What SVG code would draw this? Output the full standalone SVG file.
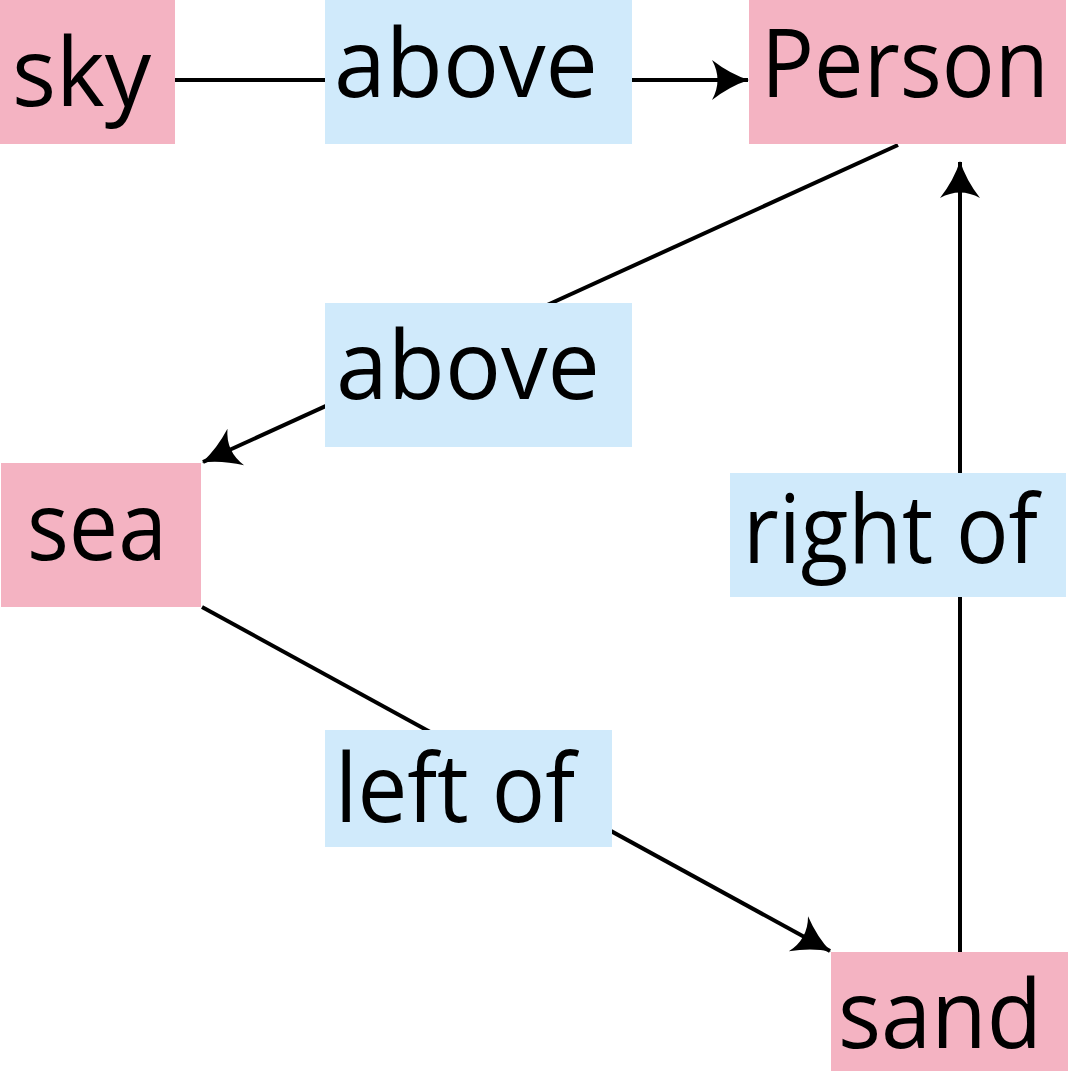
<svg xmlns="http://www.w3.org/2000/svg" width="1070" height="1071" viewBox="0 0 1070 1071">
<style>
.node{fill:#F4B3C2}
.lbl{fill:#D0EAFB}
text{font-family:"Open Sans","Noto Sans","DejaVu Sans",sans-serif;font-size:96px;fill:#000}
.edge{stroke:#000;stroke-width:4;fill:none}
</style>
<defs>
<marker id="arr" markerUnits="userSpaceOnUse" markerWidth="45" markerHeight="50" refX="0" refY="0" viewBox="-40 -25 45 50" orient="auto">
<path d="M1 0 Q-18 -6 -36 -20 Q-25 0 -36 20 Q-18 6 1 0 Z" fill="#000"/>
</marker>
</defs>
<g id="connectors">
<line class="edge" x1="175" y1="80" x2="748" y2="80" marker-end="url(#arr)"/>
<line class="edge" x1="898" y1="145" x2="203" y2="462" marker-end="url(#arr)"/>
<line class="edge" x1="202" y1="607" x2="830" y2="951" marker-end="url(#arr)"/>
<line class="edge" x1="960" y1="952" x2="960" y2="162" marker-end="url(#arr)"/>
</g>
<g id="label-above-1">
<rect class="lbl" x="325" y="0" width="307" height="144"/>
<text x="334" y="97" textLength="264" lengthAdjust="spacingAndGlyphs">above</text>
</g>
<g id="label-above-2">
<rect class="lbl" x="325" y="303" width="307" height="144"/>
<text x="336" y="399" textLength="264" lengthAdjust="spacingAndGlyphs">above</text>
</g>
<g id="label-left-of">
<rect class="lbl" x="325" y="730" width="287" height="117"/>
<text x="335" y="822" textLength="240" lengthAdjust="spacingAndGlyphs">left of</text>
</g>
<g id="label-right-of">
<rect class="lbl" x="730" y="473" width="336" height="124"/>
<text x="743" y="563" textLength="295" lengthAdjust="spacingAndGlyphs">right of</text>
</g>
<g id="node-sky">
<rect class="node" x="0" y="0" width="175" height="144"/>
<text x="12" y="106" textLength="139" lengthAdjust="spacingAndGlyphs">sky</text>
</g>
<g id="node-person">
<rect class="node" x="749" y="0" width="317" height="144"/>
<text x="761" y="97" textLength="288" lengthAdjust="spacingAndGlyphs">Person</text>
</g>
<g id="node-sea">
<rect class="node" x="1" y="463" width="200" height="144"/>
<text x="27" y="560" textLength="140" lengthAdjust="spacingAndGlyphs">sea</text>
</g>
<g id="node-sand">
<rect class="node" x="831" y="952" width="237" height="119"/>
<text x="838" y="1048" textLength="204" lengthAdjust="spacingAndGlyphs">sand</text>
</g>
</svg>
